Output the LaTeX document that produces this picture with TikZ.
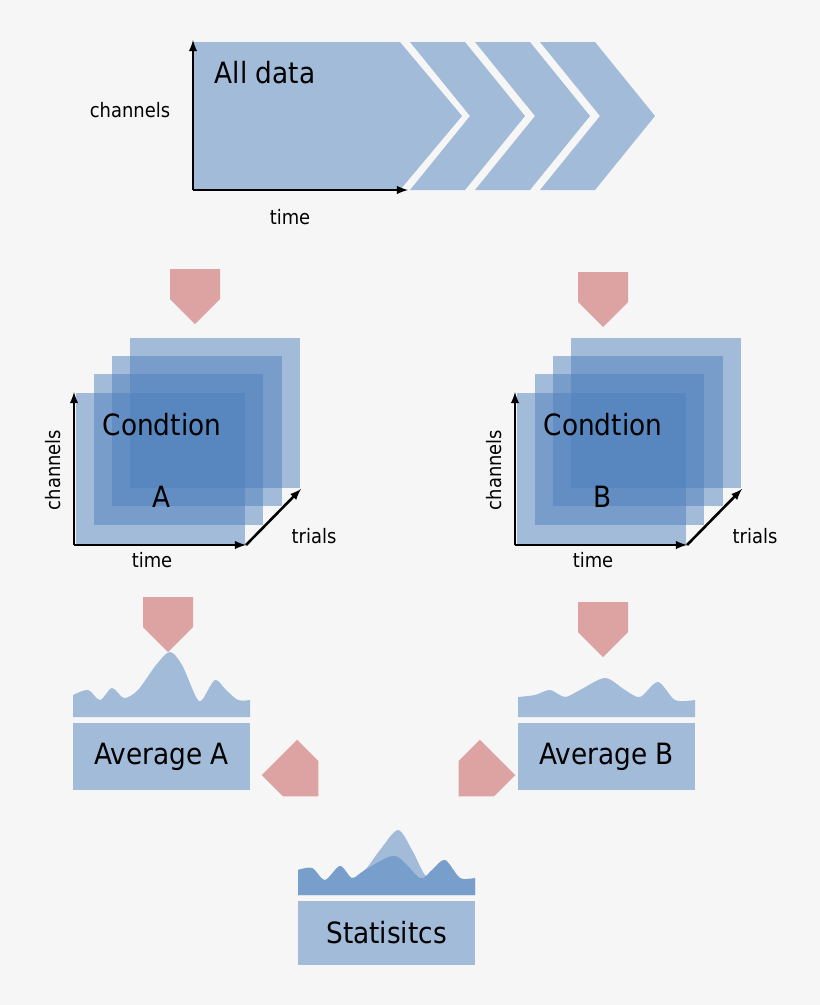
\documentclass[tikz,border=0pt]{standalone}
\usepackage{fontspec}
\setmainfont{DejaVu Sans Condensed}
\usetikzlibrary{shapes.arrows}
\definecolor{bg}{HTML}{F6F6F6}
\definecolor{lblue}{HTML}{A2BBD9}
\definecolor{mblue}{HTML}{789FCB}
\definecolor{sblue}{HTML}{4F81BD}
\definecolor{pink}{HTML}{DDA3A3}
\tikzset{
  pinkarrow/.style={single arrow, fill=pink, draw=none, minimum width=50*0.03cm,
    single arrow head extend=0pt, single arrow head indent=0pt, inner sep=12*0.03cm, minimum height=55*0.03cm},
  axis/.style={line width=2.2pt, -latex},
  big/.style={font=\fontsize{25}{25}\selectfont},
  small/.style={font=\fontsize{17}{17}\selectfont},
  sheet/.style={fill=sblue, fill opacity=0.5, draw=none},
}
\begin{document}
\begin{tikzpicture}[x=0.03cm,y=-0.03cm]
\fill[bg] (0,0) rectangle (820,1005);
\useasboundingbox (0,0) rectangle (820,1005);

% all data
\fill[lblue] (193,42) -- (400,42) -- (462,116) -- (400,190) -- (193,190) -- cycle;
\foreach \dx in {0,65,130} {
\fill[lblue] (410+\dx,42) -- (465+\dx,42) -- (525+\dx,116) -- (465+\dx,190) -- (410+\dx,190) -- (470+\dx,116) -- cycle;
}
\coordinate (o) at (193,190);
\coordinate (ytop) at (193,40);
\coordinate (xend) at (408,190);
\draw[axis] (o) -- (ytop);
\draw[axis] (o) -- (xend);
\node[big] (alldata) at (265,73) {All data};
\node[small] (chan) at (130,110) {channels};
\node[small] (time) at (290,217) {time};

\node[pinkarrow, rotate=-90] (arrA) at (195,284) {};
\node[pinkarrow, rotate=-90] (arrB) at (603,287) {};

% conditions
\foreach \dx/\lab in {0/A,441/B} {
\begin{scope}[xshift=\dx*0.03cm]
\fill[sheet] (130,338) rectangle (300,488);
\fill[sheet] (112,356) rectangle (282,506);
\fill[sheet] (94,374) rectangle (263,525);
\fill[sheet] (76,393) rectangle (245,545);
\coordinate (c\lab) at (74,545);
\coordinate (cy\lab) at (74,392);
\coordinate (cx\lab) at (246,545);
\coordinate (ct\lab) at (301,489);
\draw[axis] (c\lab) -- (cy\lab);
\draw[axis] (c\lab) -- (cx\lab);
\draw[axis] (cx\lab) -- (ct\lab);
\node[small, rotate=90] (cchan\lab) at (53,470) {channels};
\node[small] (ctime\lab) at (152,560) {time};
\node[small] (ctrial\lab) at (314,536) {trials};
\node[big] (cond\lab) at (162,425) {Condtion};
\node[big] (clab\lab) at (162,497) {\lab};
\end{scope}
}

\node[pinkarrow, rotate=-90] (arrA2) at (168,612) {};
\node[pinkarrow, rotate=-90] (arrB2) at (603,617) {};

% averages
\fill[lblue] (73,717) -- plot[smooth] coordinates {(73,695) (88,690) (100,700) (112,688) (124,698) (138,690) (156,665) (170,652) (182,665) (196,697) (202,700) (215,680) (226,690) (238,700) (250,700)} -- (250,717) -- cycle;
\node[fill=lblue, minimum width=177*0.03cm, minimum height=67*0.03cm, big] (avgA) at (161.5,756.5) {Average A};
\fill[lblue] (518,717) -- plot[smooth] coordinates {(518,697) (535,695) (550,690) (565,697) (580,690) (605,678) (625,690) (640,697) (658,682) (675,700) (695,700)} -- (695,717) -- cycle;
\node[fill=lblue, minimum width=177*0.03cm, minimum height=67*0.03cm, big] (avgB) at (606.5,756.5) {Average B};

\node[pinkarrow, rotate=-45] (arrS1) at (290,768) {};
\node[pinkarrow, rotate=-135] (arrS2) at (487,768) {};

% statistics
\fill[lblue] (298,895) -- plot[smooth] coordinates {(298,870) (312,868) (325,880) (340,866) (352,878) (365,870) (380,850) (398,830) (412,850) (425,875) (432,870) (445,860) (460,878) (475,878)} -- (475,895) -- cycle;
\fill[mblue] (298,895) -- plot[smooth] coordinates {(298,870) (312,868) (325,880) (340,866) (352,878) (365,870) (395,856) (420,878) (432,870) (445,860) (460,878) (475,878)} -- (475,895) -- cycle;
\node[fill=lblue, minimum width=177*0.03cm, minimum height=64*0.03cm, big] (stats) at (386.5,933) {Statisitcs};
\end{tikzpicture}
\end{document}
